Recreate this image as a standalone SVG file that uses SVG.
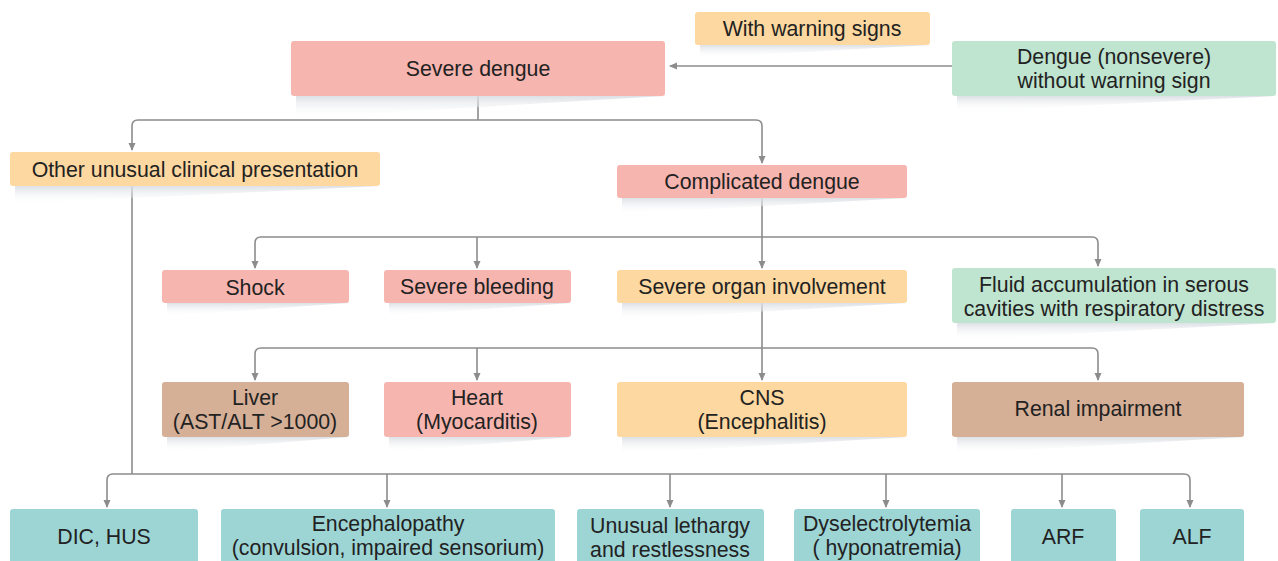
<svg xmlns="http://www.w3.org/2000/svg" width="1278" height="561" viewBox="0 0 1278 561">
<style>
.t{font-family:"Liberation Sans",Arial,sans-serif;font-size:21.3px;fill:#222;text-anchor:middle}
.pink{fill:#F7B5AF}
.orange{fill:#FDD8A0}
.green{fill:#BFE4CF}
.brown{fill:#D5AF96}
.teal{fill:#9DD5D5}
.c{fill:none;stroke:#8C8C8C;stroke-width:1.6}
.sh{fill:url(#shg)}
</style>
<defs>
<linearGradient id="shg" x1="0" y1="0" x2="0" y2="1">
<stop offset="0" stop-color="#D9DDE2" stop-opacity="0.9"/>
<stop offset="1" stop-color="#FFFFFF" stop-opacity="0"/>
</linearGradient>
<marker id="ah" markerWidth="8" markerHeight="8" refX="7" refY="4" orient="auto" markerUnits="userSpaceOnUse">
<path d="M0,0.5 L8,4 L0,7.5 Z" fill="#8C8C8C"/>
</marker>
</defs>
<rect width="1278" height="561" fill="#fff"/>

<g id="connectors">
<path class="c" d="M952,66 H670" marker-end="url(#ah)"/>
<path class="c" d="M478,96 V120"/>
<path class="c" d="M478,120 H138 Q132,120 132,126 V150" marker-end="url(#ah)"/>
<path class="c" d="M478,120 H756 Q762,120 762,126 V163" marker-end="url(#ah)"/>
<path class="c" d="M762,198 V268" marker-end="url(#ah)"/>
<path class="c" d="M762,237 H261 Q255,237 255,243 V268" marker-end="url(#ah)"/>
<path class="c" d="M477,237 V268" marker-end="url(#ah)"/>
<path class="c" d="M762,237 H1092 Q1098,237 1098,243 V266" marker-end="url(#ah)"/>
<path class="c" d="M762,303 V380" marker-end="url(#ah)"/>
<path class="c" d="M762,348 H261 Q255,348 255,354 V380" marker-end="url(#ah)"/>
<path class="c" d="M477,348 V380" marker-end="url(#ah)"/>
<path class="c" d="M762,348 H1092 Q1098,348 1098,354 V380" marker-end="url(#ah)"/>
<path class="c" d="M132,186 V474"/>
<path class="c" d="M132,474 H113 Q107,474 107,480 V507" marker-end="url(#ah)"/>
<path class="c" d="M132,474 H1184 Q1190,474 1190,480 V507" marker-end="url(#ah)"/>
<path class="c" d="M387,474 V507" marker-end="url(#ah)"/>
<path class="c" d="M670,474 V507" marker-end="url(#ah)"/>
<path class="c" d="M886,474 V507" marker-end="url(#ah)"/>
<path class="c" d="M1062,474 V507" marker-end="url(#ah)"/>
</g>

<g id="n-warning">
<polygon class="sh" points="700,45 930,45 700,58"/>
<rect class="orange" x="695" y="12" width="235" height="33" rx="3"/>
<text class="t" x="812" y="36">With warning signs</text>
</g>
<g id="n-severe">
<polygon class="sh" points="296,96 665,96 296,118"/>
<rect class="pink" x="291" y="41" width="374" height="55" rx="3"/>
<text class="t" x="478" y="76">Severe dengue</text>
</g>
<g id="n-nonsevere">
<polygon class="sh" points="957,96 1276,96 957,112"/>
<rect class="green" x="952" y="41" width="324" height="55" rx="3"/>
<text class="t" x="1114" y="64">Dengue (nonsevere)</text>
<text class="t" x="1114" y="88">without warning sign</text>
</g>
<g id="n-other">
<polygon class="sh" points="15,186 380,186 15,204"/>
<rect class="orange" x="10" y="152" width="370" height="34" rx="3"/>
<text class="t" x="195" y="177">Other unusual clinical presentation</text>
</g>
<g id="n-complicated">
<polygon class="sh" points="622,198 907,198 622,214"/>
<rect class="pink" x="617" y="165" width="290" height="33" rx="3"/>
<text class="t" x="762" y="189">Complicated dengue</text>
</g>
<g id="n-shock">
<polygon class="sh" points="167,303 349,303 167,316"/>
<rect class="pink" x="162" y="270" width="187" height="33" rx="3"/>
<text class="t" x="255" y="295">Shock</text>
</g>
<g id="n-bleeding">
<polygon class="sh" points="389,303 571,303 389,316"/>
<rect class="pink" x="384" y="270" width="187" height="33" rx="3"/>
<text class="t" x="477" y="294">Severe bleeding</text>
</g>
<g id="n-organ">
<polygon class="sh" points="622,303 907,303 622,320"/>
<rect class="orange" x="617" y="270" width="290" height="33" rx="3"/>
<text class="t" x="762" y="294">Severe organ involvement</text>
</g>
<g id="n-fluid">
<polygon class="sh" points="957,323 1276,323 957,340"/>
<rect class="green" x="952" y="268" width="324" height="55" rx="3"/>
<text class="t" x="1114" y="292">Fluid accumulation in serous</text>
<text class="t" x="1114" y="316">cavities with respiratory distress</text>
</g>
<g id="n-liver">
<polygon class="sh" points="167,437 349,437 167,452"/>
<rect class="brown" x="162" y="382" width="187" height="55" rx="3"/>
<text class="t" x="255" y="405">Liver</text>
<text class="t" x="255" y="429">(AST/ALT &gt;1000)</text>
</g>
<g id="n-heart">
<polygon class="sh" points="389,437 571,437 389,452"/>
<rect class="pink" x="384" y="382" width="187" height="55" rx="3"/>
<text class="t" x="477" y="405">Heart</text>
<text class="t" x="477" y="429">(Myocarditis)</text>
</g>
<g id="n-cns">
<polygon class="sh" points="622,437 907,437 622,454"/>
<rect class="orange" x="617" y="382" width="290" height="55" rx="3"/>
<text class="t" x="762" y="405">CNS</text>
<text class="t" x="762" y="429">(Encephalitis)</text>
</g>
<g id="n-renal">
<polygon class="sh" points="957,437 1244,437 957,454"/>
<rect class="brown" x="952" y="382" width="292" height="55" rx="3"/>
<text class="t" x="1098" y="416">Renal impairment</text>
</g>
<g id="n-dic">
<rect class="teal" x="10" y="509" width="188" height="60" rx="3"/>
<text class="t" x="104" y="544">DIC, HUS</text>
</g>
<g id="n-enceph">
<rect class="teal" x="221" y="509" width="334" height="60" rx="3"/>
<text class="t" x="388" y="531">Encephalopathy</text>
<text class="t" x="388" y="555">(convulsion, impaired sensorium)</text>
</g>
<g id="n-lethargy">
<rect class="teal" x="577" y="509" width="187" height="60" rx="3"/>
<text class="t" x="670" y="533">Unusual lethargy</text>
<text class="t" x="670" y="557">and restlessness</text>
</g>
<g id="n-dysel">
<rect class="teal" x="794" y="509" width="186" height="60" rx="3"/>
<text class="t" x="887" y="531">Dyselectrolytemia</text>
<text class="t" x="887" y="555">( hyponatremia)</text>
</g>
<g id="n-arf">
<rect class="teal" x="1011" y="509" width="105" height="60" rx="3"/>
<text class="t" x="1063" y="544">ARF</text>
</g>
<g id="n-alf">
<rect class="teal" x="1140" y="509" width="104" height="60" rx="3"/>
<text class="t" x="1192" y="544">ALF</text>
</g>
</svg>
